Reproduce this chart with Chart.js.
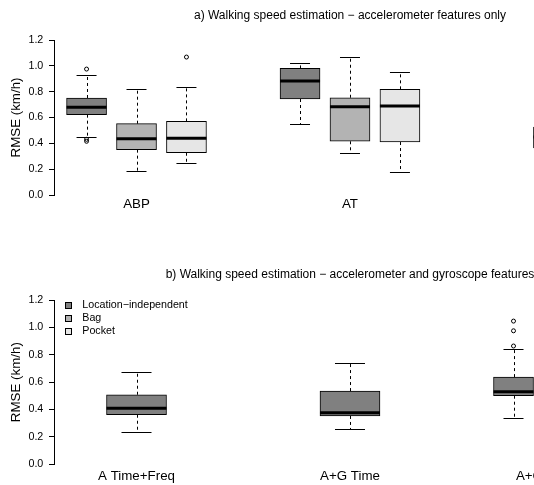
<!DOCTYPE html>
<html>
<head>
<meta charset="utf-8">
<script src="https://cdn.jsdelivr.net/npm/chart.js@4/dist/chart.umd.min.js"></script>
<style>
  html, body { margin: 0; padding: 0; background: #fff; width: 534px; height: 485px; overflow: hidden; }
  #wrap { position: absolute; left: 0; top: 0; width: 700px; height: 485px; }
  .panel { position: absolute; left: 0; width: 700px; }
  canvas { display: block; }
</style>
</head>
<body>
<div id="wrap">
  <div class="panel" style="top:0px;height:235px"><canvas id="chartA" width="700" height="235"></canvas></div>
  <div class="panel" style="top:245px;height:240px"><canvas id="chartB" width="700" height="240"></canvas></div>
</div>
<script>
// ---------------- DATA ----------------
const seriesLabels = ['Location\u2212independent', 'Bag', 'Pocket'];
const yTicks = [0.0, 0.2, 0.4, 0.6, 0.8, 1.0, 1.2];
const yTitle = 'RMSE (km/h)';

// Panel a) accelerometer features only
const titleA = 'a) Walking speed estimation \u2212 accelerometer features only';
const groupsA = ['ABP', 'AT', 'AF'];
// five-number summaries per group: [lower whisker, Q1, median, Q3, upper whisker]
const locA    = [[0.451, 0.622, 0.679, 0.751, 0.929], [0.550, 0.743, 0.882, 0.980, 1.024], [0.300, 0.364, 0.450, 0.526, 0.620]];
const bagA    = [[0.186, 0.351, 0.436, 0.552, 0.820], [0.325, 0.416, 0.684, 0.753, 1.068], null];
const pocketA = [[0.245, 0.327, 0.439, 0.570, 0.838], [0.180, 0.410, 0.689, 0.818, 0.954], null];
const outLocA    = [[0.975, 0.431, 0.416], [], []];
const outBagA    = [[], [], []];
const outPocketA = [[1.068], [], []];

// Panel b) accelerometer and gyroscope features
const titleB = 'b) Walking speed estimation \u2212 accelerometer and gyroscope features';
const groupsB = ['A Time+Freq', 'A+G Time', 'A+G Time+Freq'];
const locB    = [[0.236, 0.362, 0.409, 0.508, 0.674], [0.255, 0.353, 0.377, 0.535, 0.737], [0.336, 0.501, 0.530, 0.637, 0.839]];
const bagB    = [null, null, null];
const pocketB = [null, null, null];
const outLocB    = [[], [], [0.864, 0.975, 1.046]];
const outBagB    = [[], [], []];
const outPocketB = [[], [], []];

// ---------------- STYLE / LAYOUT ----------------
const seriesColors = ['#808080', '#b3b3b3', '#e6e6e6'];
const slotsA = [3, 3, 1];   // box slots reserved per group
const slotsB = [1, 1, 3];
const slotStep = 0.234;     // group units between neighbouring slots
const X_MIN = -0.3865, X_MAX = 2.6396;
const FONT = "'Liberation Sans', Arial, Helvetica, sans-serif";
Chart.defaults.font.family = FONT;
Chart.defaults.color = '#000';

function makeDatasets(statsBySeries, outBySeries, slots) {
  const out = [];
  statsBySeries.forEach((stats, s) => {
    stats.forEach((st, g) => {
      if (!st) return;
      const n = slots[g];
      const x = g + (n === 3 ? (s - 1) * slotStep : 0);
      out.push({
        type: 'bar', label: seriesLabels[s],
        data: [{ x: x, y: [st[1], st[3]] }],
        stats: [st],
        backgroundColor: seriesColors[s], borderColor: '#000', borderWidth: 1,
        borderSkipped: false, grouped: false, barThickness: n === 3 ? 40 : 60, order: 2
      });
      const o = outBySeries[s][g];
      if (o && o.length) {
        out.push({
          type: 'scatter', label: seriesLabels[s] + ' outliers',
          data: o.map(v => ({ x: x, y: v })),
          pointRadius: 2, pointStyle: 'circle', backgroundColor: 'rgba(0,0,0,0)',
          borderColor: '#000', borderWidth: 1, order: 1
        });
      }
    });
  });
  return out;
}

const whiskerPlugin = {
  id: 'whiskers',
  afterDatasetsDraw(chart) {
    const ctx = chart.ctx, ys = chart.scales.y;
    chart.data.datasets.forEach((ds, di) => {
      if (!ds.stats) return;
      const meta = chart.getDatasetMeta(di);
      meta.data.forEach((el, i) => {
        const s = ds.stats[i];
        const half = el.width / 2;
        const xc = Math.round(el.x) + 0.5;
        const p = s.map(v => ys.getPixelForValue(v));
        ctx.save();
        ctx.strokeStyle = '#000';
        ctx.lineWidth = 1;
        ctx.setLineDash([3, 3]);
        ctx.beginPath();
        ctx.moveTo(xc, p[3]); ctx.lineTo(xc, p[4]);
        ctx.moveTo(xc, p[1]); ctx.lineTo(xc, p[0]);
        ctx.stroke();
        ctx.setLineDash([]);
        ctx.beginPath();
        const c0 = Math.round(p[4]) + 0.5, c1 = Math.round(p[0]) + 0.5;
        ctx.moveTo(el.x - half / 2, c0); ctx.lineTo(el.x + half / 2, c0);
        ctx.moveTo(el.x - half / 2, c1); ctx.lineTo(el.x + half / 2, c1);
        ctx.stroke();
        ctx.lineWidth = 3;
        ctx.beginPath();
        ctx.moveTo(el.x - half, p[2]); ctx.lineTo(el.x + half, p[2]);
        ctx.stroke();
        ctx.restore();
      });
    });
  }
};

const legendPlugin = {
  id: 'boxLegend',
  afterDraw(chart) {
    const ctx = chart.ctx, a = chart.chartArea;
    ctx.save();
    ctx.font = '10.7px ' + FONT;
    ctx.textBaseline = 'middle';
    ctx.textAlign = 'left';
    seriesLabels.forEach((lab, i) => {
      const cy = Math.round(a.top + 5 + i * 12.8);
      ctx.fillStyle = seriesColors[i];
      ctx.fillRect(a.left + 11, cy - 3, 7, 7);
      ctx.strokeStyle = '#000';
      ctx.lineWidth = 1;
      ctx.strokeRect(a.left + 11.5, cy - 2.5, 6, 6);
      ctx.fillStyle = '#000';
      ctx.fillText(lab, a.left + 28.3, cy + 0.5);
    });
    ctx.restore();
  }
};

function makeChart(id, title, groups, datasets, geom, extraPlugins) {
  return new Chart(document.getElementById(id), {
    type: 'bar',
    data: { datasets: datasets },
    plugins: [whiskerPlugin].concat(extraPlugins || []),
    options: {
      responsive: false, animation: false, devicePixelRatio: 1, events: [],
      layout: { padding: 0, autoPadding: false },
      plugins: {
        legend: { display: false }, tooltip: { enabled: false },
        title: {
          display: true, text: title, color: '#000',
          font: { size: 12, weight: 'normal', lineHeight: 1.2 },
          padding: { top: geom.titleTop, bottom: geom.titleBottom }
        }
      },
      scales: {
        x: {
          type: 'linear', offset: false, min: X_MIN, max: X_MAX,
          grid: { display: false, drawTicks: false }, border: { display: false },
          afterBuildTicks: (sc) => { sc.ticks = groups.map((g, i) => ({ value: i })); },
          afterFit: (sc) => { sc.height = geom.xHeight; sc.paddingLeft = 0; sc.paddingRight = 0; },
          ticks: {
            autoSkip: false, maxRotation: 0, padding: geom.xPad, color: '#000',
            font: { size: 13.33, lineHeight: 1.2 },
            callback: (v) => groups[Math.round(v)]
          }
        },
        y: {
          min: 0, max: 1.2,
          afterBuildTicks: (sc) => { sc.ticks = yTicks.map(v => ({ value: v })); },
          afterFit: (sc) => { sc.width = 54; },
          grid: { drawOnChartArea: false, drawTicks: true, tickLength: 5, color: '#000', lineWidth: 1 },
          border: { display: true, color: '#000', width: 1 },
          ticks: { padding: 5.7, color: '#000', font: { size: 10.7 }, callback: (v) => Number(v).toFixed(1) },
          title: { display: true, text: yTitle, color: '#000', font: { size: 13.33, lineHeight: 1.2 }, padding: { top: 8.5, bottom: 0 } }
        }
      }
    }
  });
}

makeChart('chartA', titleA, groupsA,
  makeDatasets([locA, bagA, pocketA], [outLocA, outBagA, outPocketA], slotsA),
  { titleTop: 8.8, titleBottom: 16.8, xHeight: 40, xPad: 1.5 });

makeChart('chartB', titleB, groupsB,
  makeDatasets([locB, bagB, pocketB], [outLocB, outBagB, outPocketB], slotsB),
  { titleTop: 22.8, titleBottom: 17.8, xHeight: 20.7, xPad: 3.7 }, [legendPlugin]);
</script>
</body>
</html>
